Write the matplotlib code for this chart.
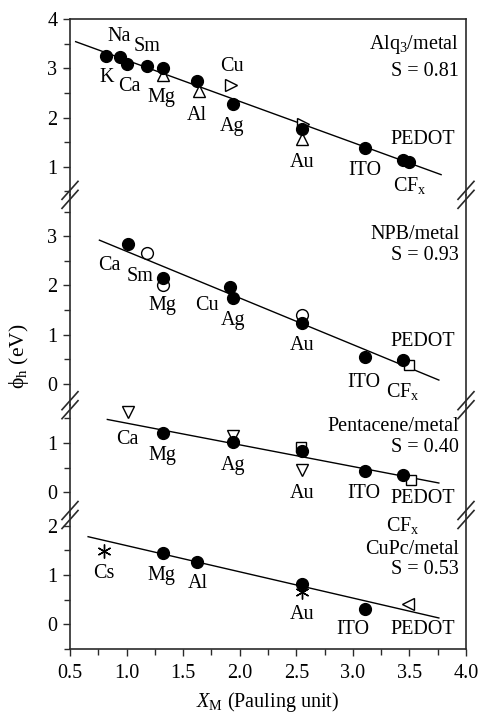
import matplotlib
matplotlib.use("Agg")
import matplotlib.pyplot as plt
from matplotlib.ticker import MultipleLocator, FormatStrFormatter
from matplotlib.lines import Line2D

plt.rcParams['font.family'] = ['Liberation Serif', 'DejaVu Serif']
plt.rcParams['mathtext.fontset'] = 'custom'
plt.rcParams['mathtext.rm'] = 'Liberation Serif'
plt.rcParams['mathtext.it'] = 'Liberation Serif:italic'
FS = 14.5
plt.rcParams['font.size'] = FS

# ---------------- data ----------------
# Alq3 / metal
alq_fill_x = [0.82, 0.94, 1.00, 1.18, 1.32, 1.62, 1.94, 2.55, 3.11, 3.44, 3.50]
alq_fill_y = [3.25, 3.23, 3.08, 3.04, 3.00, 2.75, 2.27, 1.76, 1.38, 1.13, 1.10]
alq_up_x = [1.32, 1.64, 2.55]
alq_up_y = [2.87, 2.53, 1.56]
alq_right_x = [1.92, 2.56]
alq_right_y = [2.65, 1.87]
alq_fit_x = [0.55, 3.78]
alq_fit_y = [3.54, 0.84]

# NPB / metal
npb_fill_x = [1.01, 1.32, 1.91, 1.94, 2.55, 3.11, 3.44]
npb_fill_y = [2.85, 2.16, 1.97, 1.75, 1.23, 0.55, 0.49]
npb_open_x = [1.18, 1.32, 2.55]
npb_open_y = [2.65, 2.00, 1.40]
npb_sq_x = [3.50]
npb_sq_y = [0.39]
npb_fit_x = [0.76, 3.76]
npb_fit_y = [2.92, 0.08]

# Pentacene / metal
pen_fill_x = [1.32, 1.94, 2.55, 3.11, 3.44]
pen_fill_y = [1.21, 1.02, 0.84, 0.43, 0.36]
pen_down_x = [1.01, 1.94, 2.55]
pen_down_y = [1.64, 1.14, 0.46]
pen_sq_x = [2.54, 3.51]
pen_sq_y = [0.92, 0.26]
pen_fit_x = [0.83, 3.76]
pen_fit_y = [1.48, 0.19]

# CuPc / metal
cupc_fill_x = [1.32, 1.62, 2.55, 3.11]
cupc_fill_y = [1.45, 1.26, 0.81, 0.32]
cupc_star_x = [0.80, 2.55]
cupc_star_y = [1.48, 0.66]
cupc_left_x = [3.49]
cupc_left_y = [0.41]
cupc_fit_x = [0.66, 3.76]
cupc_fit_y = [1.78, 0.13]

panel_titles = ["Alq$_3$/metal", "NPB/metal", "Pentacene/metal", "CuPc/metal"]
panel_slopes = ["S = 0.81", "S = 0.93", "S = 0.40", "S = 0.53"]
panel_ylims = [(0.43, 4.0), (-0.43, 3.84), (-0.46, 1.77), (-0.5, 2.22)]

x_ticks = [0.5, 1.0, 1.5, 2.0, 2.5, 3.0, 3.5, 4.0]
x_ticklabels = ["0.5", "1.0", "1.5", "2.0", "2.5", "3.0", "3.5", "4.0"]

# ---------------- layout ----------------
W, H = 481, 713
fig = plt.figure(figsize=(W / 100, H / 100), dpi=100)
ratios = [hi - lo for lo, hi in panel_ylims]
gs = fig.add_gridspec(4, 1, height_ratios=ratios, hspace=0,
                      left=70 / W, right=466 / W, top=1 - 19 / H, bottom=1 - 649 / H)
axs = [fig.add_subplot(gs[i]) for i in range(4)]

spine_c = "#2a2a2a"
title_y = [(3.48, 2.93), (3.04, 2.61), (1.34, 0.91), (1.53, 1.11)]
for i, ax in enumerate(axs):
    lo, hi = panel_ylims[i]
    ax.set_xlim(0.5, 4.0)
    ax.set_ylim(lo, hi)
    ax.patch.set_alpha(0)
    for s in ax.spines.values():
        s.set_color(spine_c)
        s.set_linewidth(1.2)
    ax.spines['top'].set_visible(i == 0)
    ax.spines['bottom'].set_visible(i == 3)
    ax.yaxis.set_major_locator(MultipleLocator(1))
    ax.yaxis.set_minor_locator(MultipleLocator(0.5))
    ax.yaxis.set_major_formatter(FormatStrFormatter('%d'))
    ax.tick_params(axis='y', which='both', direction='out', left=True, right=False,
                   color=spine_c, width=1.0, labelsize=FS, pad=4)
    ax.tick_params(axis='y', which='major', length=5)
    ax.tick_params(axis='y', which='minor', length=4)
    ax.tick_params(axis='x', which='both', top=False, bottom=(i == 3),
                   labelbottom=(i == 3), direction='out', color=spine_c, width=1.0)
    ax.tick_params(axis='x', which='major', length=5, labelsize=FS, pad=6)
    ax.tick_params(axis='x', which='minor', length=4)
    ax.set_xticks(x_ticks)
    ax.set_xticklabels(x_ticklabels if i == 3 else [])
    ax.xaxis.set_minor_locator(MultipleLocator(0.25))
    ty, sy = title_y[i]
    ax.text(3.94, ty, panel_titles[i], ha='right', va='center', fontsize=FS)
    ax.text(3.94, sy, panel_slopes[i], ha='right', va='center', fontsize=FS)

ms = 8.5
fill_kw = dict(ls='none', marker='o', ms=ms, mfc='black', mec='black', zorder=3)
open_kw = dict(ls='none', mfc='white', mec='black', mew=1.0, zorder=3)
fit_kw = dict(color='black', lw=1.0, zorder=2)


def labels(ax, items):
    for txt, x, y in items:
        ax.text(x, y, txt, ha='center', va='center', fontsize=FS, zorder=4)


# Alq3 panel
ax = axs[0]
ax.plot(alq_fit_x, alq_fit_y, **fit_kw)
ax.plot(alq_up_x, alq_up_y, marker='^', ms=ms + 0.5, **open_kw)
ax.plot(alq_right_x, alq_right_y, marker='>', ms=ms + 0.5, **open_kw)
ax.plot(alq_fill_x, alq_fill_y, **fill_kw)
labels(ax, [("Na", 0.93, 3.65), ("Sm", 1.18, 3.44), ("K", 0.82, 2.81), ("Ca", 1.02, 2.63),
            ("Mg", 1.31, 2.40), ("Al", 1.62, 2.05), ("Cu", 1.93, 3.03), ("Ag", 1.93, 1.81),
            ("Au", 2.55, 1.09), ("ITO", 3.11, 0.93), ("PEDOT", 3.62, 1.56),
            ("CF$_\\mathrm{x}$", 3.50, 0.62)])

# NPB panel
ax = axs[1]
ax.plot(npb_fit_x, npb_fit_y, **fit_kw)
ax.plot(npb_open_x, npb_open_y, marker='o', ms=ms, **open_kw)
ax.plot(npb_sq_x, npb_sq_y, marker='s', ms=7, **open_kw)
ax.plot(npb_fill_x, npb_fill_y, **fill_kw)
labels(ax, [("Ca", 0.85, 2.41), ("Sm", 1.12, 2.19), ("Mg", 1.32, 1.59), ("Cu", 1.71, 1.59),
            ("Ag", 1.94, 1.28), ("Au", 2.55, 0.79), ("PEDOT", 3.62, 0.86),
            ("ITO", 3.10, 0.04), ("CF$_\\mathrm{x}$", 3.44, -0.15)])

# Pentacene panel
ax = axs[2]
ax.plot(pen_fit_x, pen_fit_y, **fit_kw)
ax.plot(pen_down_x, pen_down_y, marker='v', ms=ms + 0.5, **open_kw)
ax.plot(pen_sq_x, pen_sq_y, marker='s', ms=7, **open_kw)
ax.plot(pen_fill_x, pen_fill_y, **fill_kw)
labels(ax, [("Ca", 1.01, 1.07), ("Mg", 1.32, 0.74), ("Ag", 1.94, 0.55), ("Au", 2.55, -0.02),
            ("ITO", 3.10, -0.03), ("PEDOT", 3.62, -0.12), ("CF$_\\mathrm{x}$", 3.44, -0.68)])

# CuPc panel
ax = axs[3]
ax.plot(cupc_fit_x, cupc_fit_y, **fit_kw)
ax.plot(cupc_star_x, cupc_star_y, ls='none', marker=(6, 2, 0), ms=10, mec='black',
        mew=1.0, zorder=4)
ax.plot(cupc_left_x, cupc_left_y, marker='<', ms=ms + 0.5, **open_kw)
ax.plot(cupc_fill_x, cupc_fill_y, **fill_kw)
labels(ax, [("Cs", 0.80, 1.04), ("Mg", 1.31, 0.99), ("Al", 1.63, 0.83), ("Au", 2.55, 0.21),
            ("ITO", 3.00, -0.11), ("PEDOT", 3.62, -0.11)])

axs[3].set_xlabel("$X_\\mathrm{M}$ (Pauling unit)", fontsize=FS, labelpad=5)
fig.text(19 / W, 0.5, "ϕ$_\\mathrm{h}$ (eV)", rotation=90, ha='center', va='center',
         fontsize=FS + 1)

# axis-break marks on both spines
dx, dy, gap = 8 / W, 9 / H, 4.5 / H
for i in range(3):
    yb = axs[i].get_position().y0
    for xs in (70 / W, 466 / W):
        for off in (-gap, gap):
            fig.add_artist(Line2D([xs - dx, xs + dx], [yb + off - dy, yb + off + dy],
                                  transform=fig.transFigure, color=spine_c, lw=1.2))

fig.savefig("out.png", dpi=100)
